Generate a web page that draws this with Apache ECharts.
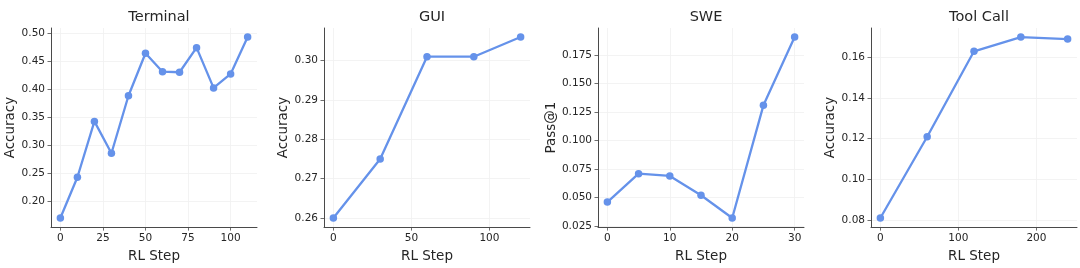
<!DOCTYPE html>
<html>
<head>
<meta charset="utf-8">
<script src="https://cdn.jsdelivr.net/npm/echarts@6/dist/echarts.min.js"></script>
<style>html,body{margin:0;padding:0;background:#fff;}#c{width:1080px;height:268px;}</style>
</head>
<body>
<div id="c"></div>
<script>
// ---- data ----
const titles = ['Terminal', 'GUI', 'SWE', 'Tool Call'];
const yNames = ['Accuracy', 'Accuracy', 'Pass@1', 'Accuracy'];
const xName = 'RL Step';

const terminalSteps = [0, 10, 20, 30, 40, 50, 60, 70, 80, 90, 100, 110];
const terminalAcc = [0.170, 0.243, 0.343, 0.286, 0.389, 0.465, 0.432, 0.431, 0.475, 0.403, 0.428, 0.494];

const guiSteps = [0, 30, 60, 90, 120];
const guiAcc = [0.260, 0.275, 0.301, 0.301, 0.306];

const sweSteps = [0, 5, 10, 15, 20, 25, 30];
const swePass = [0.046, 0.071, 0.069, 0.052, 0.032, 0.131, 0.191];

const toolSteps = [0, 60, 120, 180, 240];
const toolAcc = [0.081, 0.121, 0.163, 0.170, 0.169];

const xTicks = [[0, 25, 50, 75, 100], [0, 50, 100], [0, 10, 20, 30], [0, 100, 200]];
const yTicks = [
  [0.20, 0.25, 0.30, 0.35, 0.40, 0.45, 0.50],
  [0.26, 0.27, 0.28, 0.29, 0.30],
  [0.025, 0.050, 0.075, 0.100, 0.125, 0.150, 0.175],
  [0.08, 0.10, 0.12, 0.14, 0.16]
];
const yDecimals = [2, 2, 3, 2];

const allSteps = [terminalSteps, guiSteps, sweSteps, toolSteps];
const allVals = [terminalAcc, guiAcc, swePass, toolAcc];

// ---- layout ----
const lefts = [51, 324, 598, 871];
const gridW = 206, gridTop = 28, gridH = 205;
const yNameGaps = [34, 34, 40, 34];
const FONT = 'DejaVu Sans';
const TXT = '#262626';
const SPINE = '#4a4a4a';
const LINE = '#6592ea';

function pad(arr) {
  const mn = Math.min(...arr), mx = Math.max(...arr);
  const m = (mx - mn) * 0.05;
  return [mn - m, mx + m];
}

const grids = [], xAxes = [], yAxes = [], series = [], titleArr = [];
for (let i = 0; i < 4; i++) {
  grids.push({left: lefts[i], top: gridTop, width: gridW, height: gridH, containLabel: false});
  titleArr.push({
    text: titles[i], left: lefts[i] + gridW / 2, top: 5, textAlign: 'center',
    textStyle: {fontFamily: FONT, fontSize: 14.5, fontWeight: 'normal', color: TXT}
  });
  const xr = pad(allSteps[i]);
  const yr = pad(allVals[i]);
  xAxes.push({
    type: 'value', gridIndex: i, min: xr[0], max: xr[1],
    name: xName, nameLocation: 'middle', nameGap: 18,
    nameTextStyle: {fontFamily: FONT, fontSize: 13.5, color: TXT, verticalAlign: 'top'},
    axisLine: {show: true, onZero: false, lineStyle: {color: SPINE, width: 1}},
    axisTick: {show: true, length: 3.5, customValues: xTicks[i], lineStyle: {color: SPINE, width: 0.8}},
    axisLabel: {customValues: xTicks[i], margin: 6, fontFamily: FONT, fontSize: 10.5, color: TXT,
      formatter: v => String(Math.round(v))},
    splitLine: {show: true, lineStyle: {color: '#f0f0f0', width: 0.8}}
  });
  const dec = yDecimals[i];
  yAxes.push({
    type: 'value', gridIndex: i, min: yr[0], max: yr[1],
    name: yNames[i], nameLocation: 'middle', nameGap: yNameGaps[i], nameRotate: 90,
    nameTextStyle: {fontFamily: FONT, fontSize: 13.5, color: TXT},
    axisLine: {show: true, onZero: false, lineStyle: {color: SPINE, width: 1}},
    axisTick: {show: true, length: 3.5, customValues: yTicks[i], lineStyle: {color: SPINE, width: 0.8}},
    axisLabel: {customValues: yTicks[i], margin: 6, fontFamily: FONT, fontSize: 10.5, color: TXT,
      formatter: v => v.toFixed(dec)},
    splitLine: {show: true, lineStyle: {color: '#f0f0f0', width: 0.8}}
  });
  series.push({
    type: 'line', xAxisIndex: i, yAxisIndex: i,
    data: allSteps[i].map((s, k) => [s, allVals[i][k]]),
    symbol: 'circle', symbolSize: 7.5, showSymbol: true,
    lineStyle: {color: LINE, width: 2.3},
    itemStyle: {color: LINE},
    animation: false, silent: true
  });
}

const chart = echarts.init(document.getElementById('c'), null, {renderer: 'canvas'});
chart.setOption({
  backgroundColor: '#fff',
  animation: false,
  title: titleArr,
  grid: grids,
  xAxis: xAxes,
  yAxis: yAxes,
  series: series
});
</script>
</body>
</html>
